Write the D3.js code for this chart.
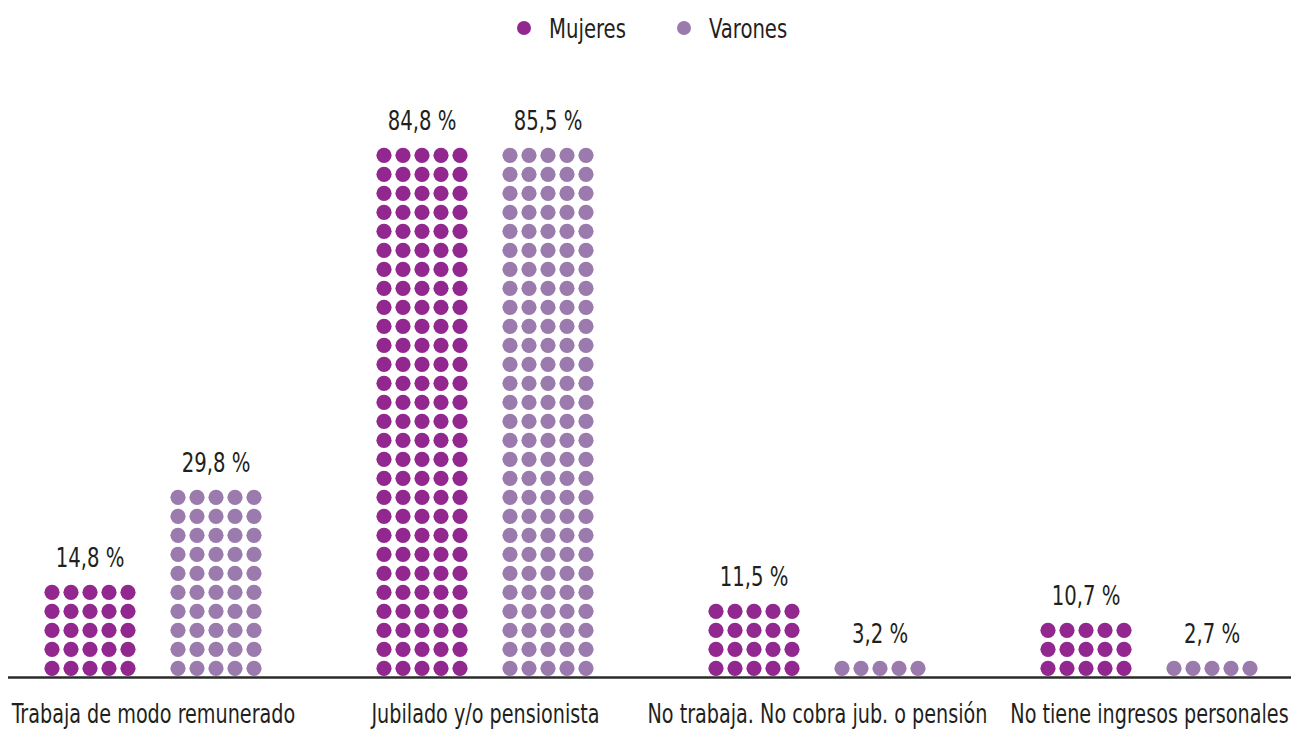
<!DOCTYPE html>
<html>
<head>
<meta charset="utf-8">
<script src="https://cdn.jsdelivr.net/npm/d3@7/dist/d3.min.js"></script>
<style>
  html, body { margin: 0; padding: 0; background: #fff; }
  svg { display: block; }
  text { font-family: "DejaVu Sans Condensed", "Liberation Sans Narrow", sans-serif; fill: #231f20; }
</style>
</head>
<body>
<div id="chart"></div>
<script>
// ---- data ----
const categories = [
  "Trabaja de modo remunerado",
  "Jubilado y/o pensionista",
  "No trabaja. No cobra jub. o pensión",
  "No tiene ingresos personales"
];
const seriesNames = ["Mujeres", "Varones"];
const mujeresValues = [14.8, 84.8, 11.5, 10.7];
const varonesValues = [29.8, 85.5, 3.2, 2.7];
const mujeresLabels = ["14,8 %", "84,8 %", "11,5 %", "10,7 %"];
const varonesLabels = ["29,8 %", "85,5 %", "3,2 %", "2,7 %"];
// rows of 5 dots drawn in each column, as counted in the picture
const mujeresRows = [5, 28, 4, 3];
const varonesRows = [10, 28, 1, 1];
const colors = ["#92278f", "#9b7bae"];

// ---- layout ----
const W = 1291, H = 735;
const FONT = '"DejaVu Sans Condensed", "Liberation Sans Narrow", sans-serif';
const SQ = 0.81, SQA = 0.79; // horizontal compression to mimic the condensed face
const svg = d3.select("#chart").append("svg").attr("width", W).attr("height", H);

const x = d3.scalePoint().domain(categories).range([153, 1149]);
const xs = d3.scalePoint().domain(seriesNames).range([-63, 63]);
const dotStep = 19, dotR = 7.6, cols = 5;
const baseY = 668.3;
const y = d3.scaleLinear().domain([0, 1]).range([baseY, baseY - dotStep]); // row index -> y

const table = [];
categories.forEach((c, i) => {
  table.push({cat: c, s: seriesNames[0], v: mujeresValues[i], label: mujeresLabels[i], rows: mujeresRows[i], color: colors[0]});
  table.push({cat: c, s: seriesNames[1], v: varonesValues[i], label: varonesLabels[i], rows: varonesRows[i], color: colors[1]});
});

const g = svg.append("g");
table.forEach(d => {
  const cx = x(d.cat) + xs(d.s);
  const dots = [];
  for (let r = 0; r < d.rows; r++) for (let k = 0; k < cols; k++) dots.push({r, k});
  g.append("g").selectAll("circle").data(dots).join("circle")
    .attr("cx", p => cx + (p.k - (cols - 1) / 2) * dotStep)
    .attr("cy", p => y(p.r))
    .attr("r", dotR)
    .attr("fill", d.color);
  g.append("text")
    .attr("transform", `translate(${cx},${y(d.rows - 1) - 25}) scale(${SQ},1)`)
    .attr("text-anchor", "middle")
    .attr("font-size", 27)
    .text(d.label);
});

// axis line
svg.append("line")
  .attr("x1", 8).attr("x2", W).attr("y1", 677.5).attr("y2", 677.5)
  .attr("stroke", "#2b2b2b").attr("stroke-width", 2.6);

// category labels
const xAxis = d3.axisBottom(x).tickSize(0).tickPadding(0);
const ax = svg.append("g").attr("transform", "translate(0,723)").call(xAxis)
  .attr("font-family", FONT);
ax.select(".domain").remove();
ax.selectAll("text")
  .attr("dy", 0).attr("y", 0)
  .attr("transform", `scale(${SQA},1)`)
  .attr("font-size", 27)
  .style("font-family", FONT)
  .attr("fill", "#231f20");

// legend
const legend = svg.append("g");
const legendX = [524, 684];
seriesNames.forEach((s, i) => {
  legend.append("circle").attr("cx", legendX[i]).attr("cy", 28).attr("r", 7).attr("fill", colors[i]);
  legend.append("text")
    .attr("transform", `translate(${legendX[i] + 25},38) scale(${SQ},1)`)
    .attr("font-size", 27).text(s);
});
</script>
</body>
</html>
